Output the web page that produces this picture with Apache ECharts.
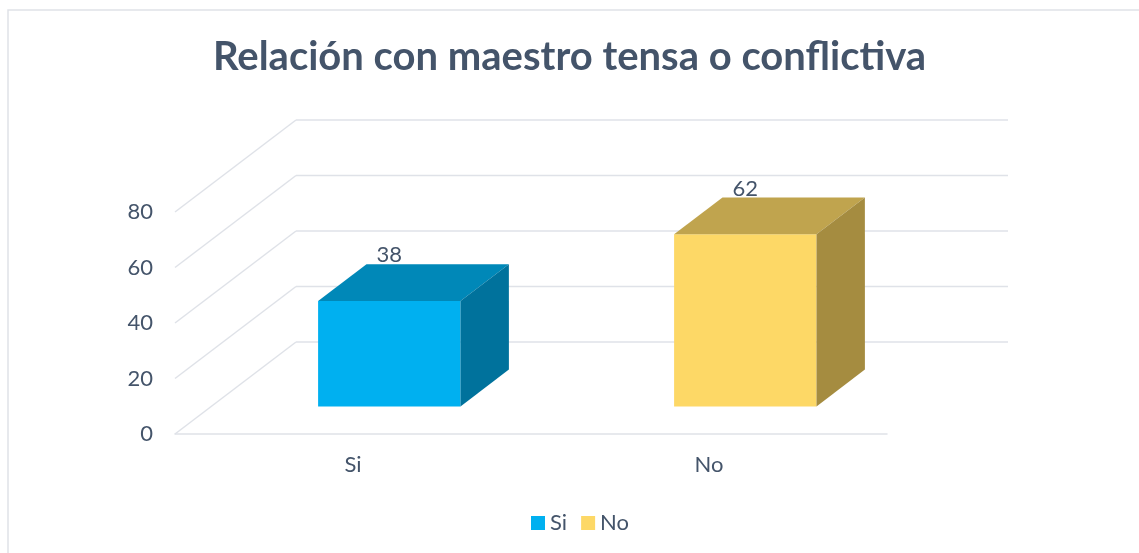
<!DOCTYPE html>
<html>
<head>
<meta charset="utf-8">
<script src="https://cdn.jsdelivr.net/npm/echarts@6/dist/echarts.min.js"></script>
<style>
  html, body { margin: 0; padding: 0; background: #fff; }
  #chart { width: 1139px; height: 553px; }
</style>
</head>
<body>
<div id="chart"></div>
<script>
// data
const categories = ['Si', 'No'];
const values = [38, 62];
const yTicks = [0, 20, 40, 60, 80];

// 3d look: how far the back wall sits from the front plane (px)
const DEPTH = { dx: 121, dy: -92 };
const BAR_FRONT = 0.3;
const BAR_BACK = 0.7;
const BAR_WIDTH = 0.4;
const faces = [
    { front: '#00b0f0', top: '#0088b8', side: '#00729c' },
    { front: '#fdd866', top: '#c0a44e', side: '#a58c40' }
];
const textColor = '#44546a';
const gridColor = '#dfe2e8';

const chart = echarts.init(document.getElementById('chart'));

function renderWall(params, api) {
    const cs = params.coordSys;
    const y = api.coord([0, api.value(0)])[1];
    const x0 = cs.x, x1 = cs.x + cs.width;
    const style = { stroke: gridColor, lineWidth: 1.5, fill: null };
    return {
        type: 'group',
        children: [
            { type: 'line', shape: { x1: x0, y1: y, x2: x0 + DEPTH.dx, y2: y + DEPTH.dy }, style: style },
            { type: 'line', shape: { x1: x0 + DEPTH.dx, y1: y + DEPTH.dy, x2: x1 + DEPTH.dx, y2: y + DEPTH.dy }, style: style }
        ]
    };
}

function renderBar(params, api) {
    const c = faces[params.seriesIndex - 1];
    const cat = api.value(0), val = api.value(1);
    const base = api.coord([cat, 0]);
    const top = api.coord([cat, val]);
    const bw = api.size([1, 0])[0] * BAR_WIDTH;
    const h = base[1] - top[1];
    const fx = base[0] - bw / 2 + DEPTH.dx * BAR_FRONT;
    const fy = base[1] + DEPTH.dy * BAR_FRONT;
    const ox = DEPTH.dx * (BAR_BACK - BAR_FRONT);
    const oy = DEPTH.dy * (BAR_BACK - BAR_FRONT);
    return {
        type: 'group',
        children: [
            { type: 'rect', shape: { x: fx, y: fy - h, width: bw, height: h }, style: { fill: c.front } },
            { type: 'polygon', shape: { points: [[fx, fy - h], [fx + ox, fy - h + oy], [fx + bw + ox, fy - h + oy], [fx + bw, fy - h]] }, style: { fill: c.top } },
            { type: 'polygon', shape: { points: [[fx + bw, fy - h], [fx + bw + ox, fy - h + oy], [fx + bw + ox, fy + oy], [fx + bw, fy]] }, style: { fill: c.side } },
            { type: 'text', style: { text: String(val), x: fx + bw / 2, y: fy - h + oy + 2, align: 'center', verticalAlign: 'bottom', fill: textColor, font: '22px Lato' } }
        ]
    };
}

const option = {
    backgroundColor: '#ffffff',
    title: {
        text: 'Relación con maestro tensa o conflictiva',
        left: 'center',
        top: 32,
        textStyle: { color: textColor, fontSize: 40, fontWeight: 'bold', fontFamily: 'Lato' }
    },
    legend: {
        data: categories,
        top: 507,
        left: 526,
        icon: 'rect',
        itemWidth: 14,
        itemHeight: 14,
        itemGap: 14,
        textStyle: { color: textColor, fontSize: 22, fontFamily: 'Lato' }
    },
    graphic: [{
        type: 'rect',
        shape: { x: 8, y: 10, width: 1200, height: 600 },
        style: { fill: null, stroke: '#dfe2e8', lineWidth: 1.5 },
        silent: true
    }],
    grid: { left: 175, right: 252, top: 212, bottom: 119 },
    xAxis: {
        type: 'category',
        data: categories,
        axisLine: { lineStyle: { color: gridColor, width: 1.5 } },
        axisTick: { show: false },
        axisLabel: { color: textColor, fontSize: 22, fontFamily: 'Lato', margin: 20 }
    },
    yAxis: {
        type: 'value',
        min: 0,
        max: 80,
        interval: 20,
        axisLine: { show: false },
        axisTick: { show: false },
        splitLine: { show: false },
        axisLabel: { color: textColor, fontSize: 22, fontFamily: 'Lato', margin: 22 }
    },
    series: [
        {
            name: 'wall',
            type: 'custom',
            silent: true,
            z: 1,
            data: yTicks.map(v => [v]),
            renderItem: renderWall
        }
    ].concat(categories.map((name, i) => ({
        name: name,
        type: 'custom',
        z: 2,
        itemStyle: { color: faces[i].front },
        data: [[i, values[i]]],
        renderItem: renderBar
    })))
};

chart.setOption(option);
</script>
</body>
</html>
